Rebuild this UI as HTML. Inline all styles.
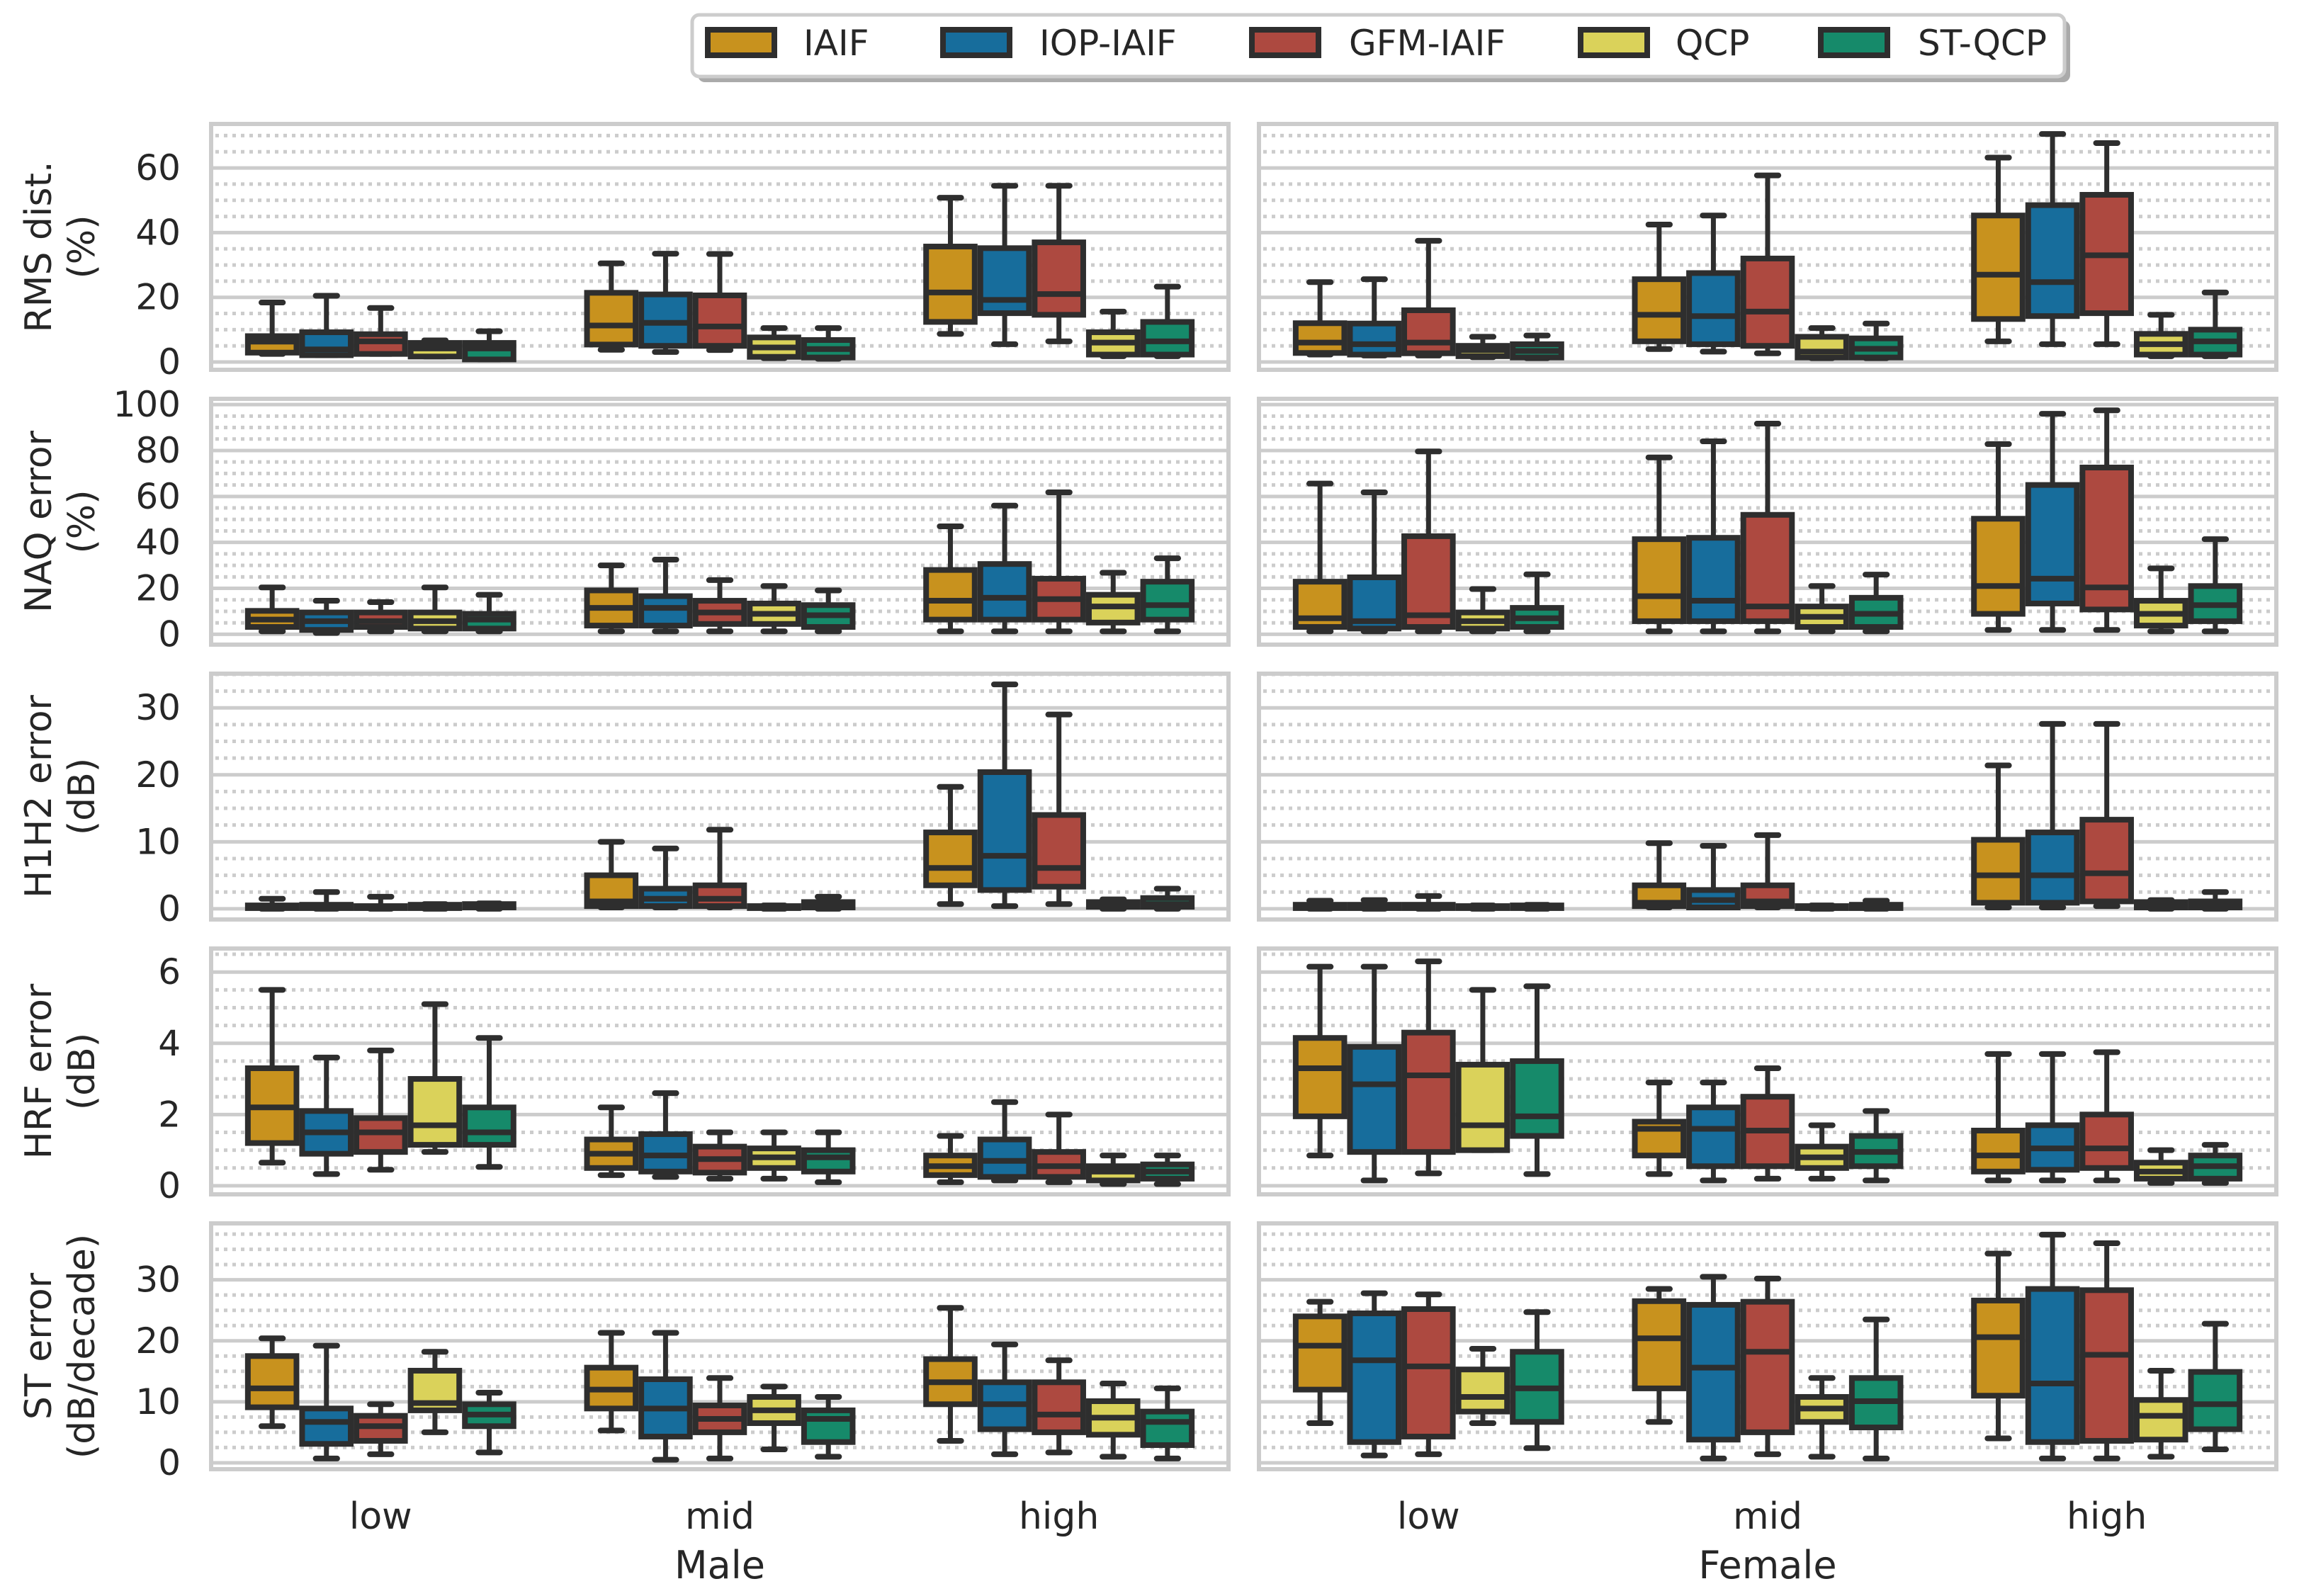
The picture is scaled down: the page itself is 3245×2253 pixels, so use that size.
<!DOCTYPE html>
<html><head><meta charset="utf-8"><style>
html,body{margin:0;padding:0;background:#fff;}
svg{display:block;font-family:"DejaVu Sans","Liberation Sans",sans-serif;}
</style></head><body>
<svg id="chart" xmlns="http://www.w3.org/2000/svg" width="3245" height="2253" viewBox="0 0 3245 2253">
<g id="grids"></g><g id="marks"></g><g id="labels"></g>
<g>
  <rect x="985" y="29" width="1937" height="87" rx="10" fill="#aaaaaa"/>
  <rect x="977" y="21" width="1937" height="87" rx="10" fill="#fff" stroke="#cccccc" stroke-width="5"/>
  <g id="legend-items"></g>
</g>
</svg>
<script>
const methods = ["IAIF","IOP-IAIF","GFM-IAIF","QCP","ST-QCP"];
const colors = ["#c8921e","#176d9c","#ad4940","#dad25a","#168a6a"];
const groups = ["low","mid","high"];
const genders = ["Male","Female"];
const rowLabels = [["RMS dist.","(%)"],["NAQ error","(%)"],["H1H2 error","(dB)"],["HRF error","(dB)"],["ST error","(dB/decade)"]];
const rowDomains = [[-2.4,73.6],[-4.5,102.5],[-1.6,35.1],[-0.24,6.66],[-1.05,39.25]];
const rowMajor = [[0,20,40,60],[0,20,40,60,80,100],[0,10,20,30],[0,2,4,6],[0,10,20,30]];
const rowMinorStep = [5,5,2.5,0.5,2.5];
// stats: [whisLo, q1, median, q3, whisHi]; order [row][gender][group][method]
const rmsData = [
 [[[2.5,2.9,6.3,8,18.4],[2.1,2.1,3.9,9.2,20.5],[2.5,2.5,6.4,8.6,16.7],[1.7,1.7,4.2,5.9,6.7],[0.8,0.8,4.2,5.9,9.5]],
  [[3.8,5.4,11.3,21.4,30.5],[3.1,5,12.1,20.9,33.5],[3.7,5,11,20.6,33.4],[1.2,1.6,4.5,7.6,10.5],[1,1.4,4,6.8,10.5]],
  [[8.7,12.4,21.5,35.7,50.8],[5.5,15.1,19.2,35.2,54.5],[6.4,14.6,21,37,54.5],[1.8,2.3,6,9.2,15.6],[1.8,2.3,6.4,12.4,23.3]]],
 [[[2.3,2.8,6,12,24.7],[2,2.3,5.5,11.9,25.6],[2,2.7,6,16,37.5],[1.5,1.8,3.7,5,7.8],[1.2,1.4,3.4,5.5,8.2]],
  [[4,6.4,14.6,25.6,42.5],[3.2,5.5,14.2,27.5,45.3],[2.7,5,15.6,32,57.7],[1.2,1.4,3.2,7.8,10.5],[1.2,1.4,4.1,7.3,11.9]],
  [[6.4,13.3,27,45.3,63.2],[5.5,14.2,24.7,48.5,70.5],[5.5,15.1,33,51.7,67.7],[1.8,2.3,5.5,8.7,14.6],[1.8,2.3,6.4,10,21.5]]]];
const naqData = [
 [[[1.3,3.2,6.4,10.2,20.4],[0.6,1.9,5.7,9.5,14.6],[1.3,3.2,5.7,9.5,14],[1.3,2.5,5.7,9.5,20.4],[1.3,2.5,6.4,8.9,17.2]],
  [[1.3,3.8,11.5,19.1,30],[1.3,3.8,11.5,16.6,32.5],[1.3,4.5,9.5,14.6,23.6],[1.3,4.5,8.9,13.4,21],[1.3,3.2,8.3,12.7,19.1]],
  [[1.3,6.4,14.6,28,47],[1.3,6.4,15.9,30.6,56],[1.3,6.4,15.3,24.2,61.8],[1.3,5.1,12.1,17.2,26.8],[1.3,6.4,12.7,22.9,33.1]]],
 [[[1.3,3.2,7,22.9,65.6],[1.3,2.5,5.7,24.8,61.8],[1.3,3.2,8.3,42.7,79.6],[1.3,2.5,5.7,9.5,19.7],[1.3,3.2,7,11.5,26.1]],
  [[1.3,5.7,16.6,41.4,77],[1.3,5.7,14.6,42,84],[1.3,5.7,12.1,52,91.7],[1.3,3.2,7.6,12.1,21],[1.3,3.2,8.9,15.9,26]],
  [[1.9,8.9,21,50.3,82.8],[1.9,13.4,24.2,65,96],[1.9,10.8,20.4,72.6,97.5],[1.3,3.8,8.9,14.6,28.7],[1.3,5.7,12.7,21,41.4]]]];
const h1h2Data = [
 [[[0,0.1,0.3,0.5,1.5],[0,0.1,0.3,0.6,2.5],[0,0.1,0.2,0.4,1.8],[0,0.1,0.3,0.6,0.7],[0,0.2,0.4,0.7,0.8]],
  [[0.2,0.4,1.1,5,10],[0.2,0.4,1.5,3,9],[0.2,0.4,1.5,3.5,11.8],[0,0.1,0.2,0.4,0.5],[0,0.2,0.5,1,1.8]],
  [[0.7,3.5,6.1,11.4,18.2],[0.4,2.8,7.9,20.4,33.5],[0.7,3.3,6.1,14,29],[0,0.3,0.7,1,1.4],[0,0.3,0.7,1.6,3]]],
 [[[0,0.1,0.3,0.6,1.2],[0,0.1,0.3,0.6,1.3],[0,0.1,0.3,0.6,1.9],[0,0.1,0.2,0.4,0.5],[0,0.1,0.3,0.5,0.6]],
  [[0.2,0.4,0.9,3.5,9.8],[0.2,0.2,1.3,2.8,9.4],[0.2,0.4,1.1,3.5,11],[0,0.1,0.2,0.4,0.5],[0,0.1,0.3,0.6,1.2]],
  [[0.2,0.9,5,10.3,21.4],[0.2,0.9,5,11.4,27.6],[0.4,1.1,5.3,13.3,27.6],[0,0.2,0.5,1,1.3],[0,0.2,0.6,1.1,2.5]]]];
const hrfData = [
 [[[0.65,1.2,2.2,3.3,5.5],[0.33,0.9,1.5,2.1,3.6],[0.45,0.95,1.5,1.9,3.8],[0.95,1.15,1.7,3,5.1],[0.53,1.15,1.5,2.2,4.15]],
  [[0.3,0.5,0.9,1.3,2.2],[0.25,0.4,0.85,1.45,2.6],[0.2,0.37,0.75,1.1,1.5],[0.2,0.5,0.8,1.05,1.5],[0.1,0.4,0.8,1,1.5]],
  [[0.1,0.3,0.55,0.85,1.4],[0.15,0.25,0.7,1.3,2.35],[0.1,0.25,0.55,0.95,2],[0.05,0.15,0.4,0.55,0.85],[0.05,0.2,0.4,0.6,0.85]]],
 [[[0.85,1.95,3.3,4.15,6.15],[0.15,0.95,2.85,3.9,6.15],[0.35,0.95,3.1,4.3,6.3],[1,1,1.7,3.4,5.5],[0.33,1.4,1.95,3.5,5.6]],
  [[0.33,0.85,1.6,1.8,2.9],[0.15,0.55,1.6,2.2,2.9],[0.2,0.55,1.55,2.5,3.3],[0.2,0.5,0.8,1.1,1.7],[0.15,0.55,0.95,1.4,2.1]],
  [[0.15,0.4,0.85,1.55,3.7],[0.15,0.45,1.05,1.7,3.7],[0.15,0.5,1.05,2,3.75],[0.08,0.2,0.4,0.65,1],[0.08,0.2,0.55,0.85,1.15]]]];
const stData = [
 [[[6,9.1,12.2,17.5,20.4],[0.7,3.1,6.7,8.9,19.2],[1.4,3.6,6,7.7,9.6],[5,8.6,9.8,15.1,18.2],[1.7,6,7.9,9.6,11.5]],
  [[5.3,8.9,12,15.6,21.3],[0.5,4.3,8.9,13.7,21.3],[0.7,5,7.2,9.4,13.9],[2.2,6.5,8.6,10.8,12.5],[1,3.4,7.2,8.6,10.8]],
  [[3.6,9.6,13.2,17,25.4],[1.4,5.5,9.6,13.2,19.4],[1.7,5,7.9,13.2,16.8],[1,4.6,7.4,10.1,13],[0.7,2.9,6.7,8.4,12.2]]],
 [[[6.5,12,19.2,24,26.4],[1.2,3.4,16.8,24.5,27.8],[1.4,4.3,15.8,25.2,27.6],[6.5,8.4,10.8,15.3,18.7],[2.4,6.7,12.2,18.2,24.7]],
  [[6.7,12.2,20.4,26.5,28.5],[0.7,3.8,15.6,25.9,30.5],[1.4,5,18.2,26.4,30.2],[1,6.7,8.9,10.8,13.9],[0.7,5.8,10.1,13.9,23.5]],
  [[4,11,20.6,26.6,34.3],[0.7,3.4,13,28.5,37.4],[0.7,3.6,17.7,28.3,36],[1,3.8,7.7,10.3,15.1],[2.2,5.5,9.6,14.9,22.8]]]];
const allData = [rmsData, naqData, h1h2Data, hrfData, stData];

const NS = "http://www.w3.org/2000/svg";
function mk(tag, attrs, parent){const e=document.createElementNS(NS,tag);for(const k in attrs)e.setAttribute(k,attrs[k]);parent.appendChild(e);return e;}
const panelX = [[298,1734],[1777,3213]];
const rowTop = [175,563,951,1339,1727];
const panelH = 347;
const LC = "#2e2e2e";
function yScale(r,v){const [lo,hi]=rowDomains[r];return rowTop[r]+panelH-(v-lo)/(hi-lo)*panelH;}
function xBand(g,grp){const [a,b]=panelX[g];return a+(b-a)/3*(grp+0.5);}
const bandW = 1436/3, boxW = bandW*0.8/5;
const grids=document.getElementById('grids'), marks=document.getElementById('marks'), labels=document.getElementById('labels');

for(let r=0;r<5;r++){
  for(let g=0;g<2;g++){
    const [x0,x1]=panelX[g];
    const pg=mk('g',{},grids);
    
    
    const [lo,hi]=rowDomains[r];
    const st=rowMinorStep[r];
    for(let v=Math.ceil(lo/st)*st; v<=hi; v+=st){
      if(rowMajor[r].some(m=>Math.abs(m-v)<1e-6)) continue;
      const y=yScale(r,v);
      const l=mk('line',{x1:x0+6,x2:x1-6,y1:y,y2:y,stroke:"#cccccc","stroke-width":5,"stroke-dasharray":"5,7"},pg);
      
      
    }
    rowMajor[r].forEach(v=>{
      const y=yScale(r,v);
      const l=mk('line',{x1:x0,x2:x1,y1:y,y2:y,stroke:"#cccccc","stroke-width":5},pg);
      
      
    });
    const fr=mk('rect',{x:x0,y:rowTop[r],width:x1-x0,height:panelH,fill:"none",stroke:"#cccccc","stroke-width":6},pg);
    
    
    for(let grp=0;grp<3;grp++){
      for(let m=0;m<5;m++){
        const s=allData[r][g][grp][m];
        const cx=xBand(g,grp)+(m-2)*boxW;
        const bg=mk('g',{},marks);
        
        
        const yl=yScale(r,s[0]),yq1=yScale(r,s[1]),ym=yScale(r,s[2]),yq3=yScale(r,s[3]),yh=yScale(r,s[4]);
        mk('line',{x1:cx,x2:cx,y1:yq3,y2:yh,stroke:LC,"stroke-width":7},bg);
        mk('line',{x1:cx,x2:cx,y1:yq1,y2:yl,stroke:LC,"stroke-width":7},bg);
        mk('line',{x1:cx-boxW/4+4,x2:cx+boxW/4-4,y1:yh,y2:yh,stroke:LC,"stroke-width":8,"stroke-linecap":"round"},bg);
        mk('line',{x1:cx-boxW/4+4,x2:cx+boxW/4-4,y1:yl,y2:yl,stroke:LC,"stroke-width":8,"stroke-linecap":"round"},bg);
        mk('rect',{x:cx-boxW/2+4,y:yq3,width:boxW-8,height:Math.max(yq1-yq3,0.5),fill:colors[m],stroke:LC,"stroke-width":8},bg);
        mk('line',{x1:cx-boxW/2+4,x2:cx+boxW/2-4,y1:ym,y2:ym,stroke:LC,"stroke-width":8},bg);
      }
    }
  }
  rowMajor[r].forEach(v=>{
    const t=mk('text',{x:255,y:yScale(r,v),"text-anchor":"end","dominant-baseline":"central","font-size":50,fill:"#262626"},labels);
    
    
    t.textContent=v;
  });
  const cy=rowTop[r]+panelH/2;
  rowLabels[r].forEach((txt,i)=>{
    const x=i===0?55:116;
    const t=mk('text',{x:x,y:cy,"text-anchor":"middle","dominant-baseline":"central","font-size":52,fill:"#262626",transform:`rotate(-90 ${x} ${cy})`},labels);
    
    
    t.textContent=txt;
  });
}
for(let g=0;g<2;g++){
  for(let grp=0;grp<3;grp++){
    const t=mk('text',{x:xBand(g,grp),y:2158,"text-anchor":"middle","font-size":52,fill:"#262626"},labels);
    
    
    t.textContent=groups[grp];
  }
  const t=mk('text',{x:(panelX[g][0]+panelX[g][1])/2,y:2228,"text-anchor":"middle","font-size":54,fill:"#262626"},labels);
  
  
  t.textContent=genders[g];
}
const legX=[995,1327,1763,2227,2566], legTX=[1134,1467,1904,2365,2707];
const li=document.getElementById('legend-items');
methods.forEach((m,i)=>{
  const g=mk('g',{},li);
  
  
  mk('rect',{x:legX[i]+4,y:42,width:94,height:36,fill:colors[i],stroke:LC,"stroke-width":8},g);
  const t=mk('text',{x:legTX[i],y:61,"dominant-baseline":"central","font-size":50,fill:"#262626"},g);
  t.textContent=m;
});
</script>
</body></html>
